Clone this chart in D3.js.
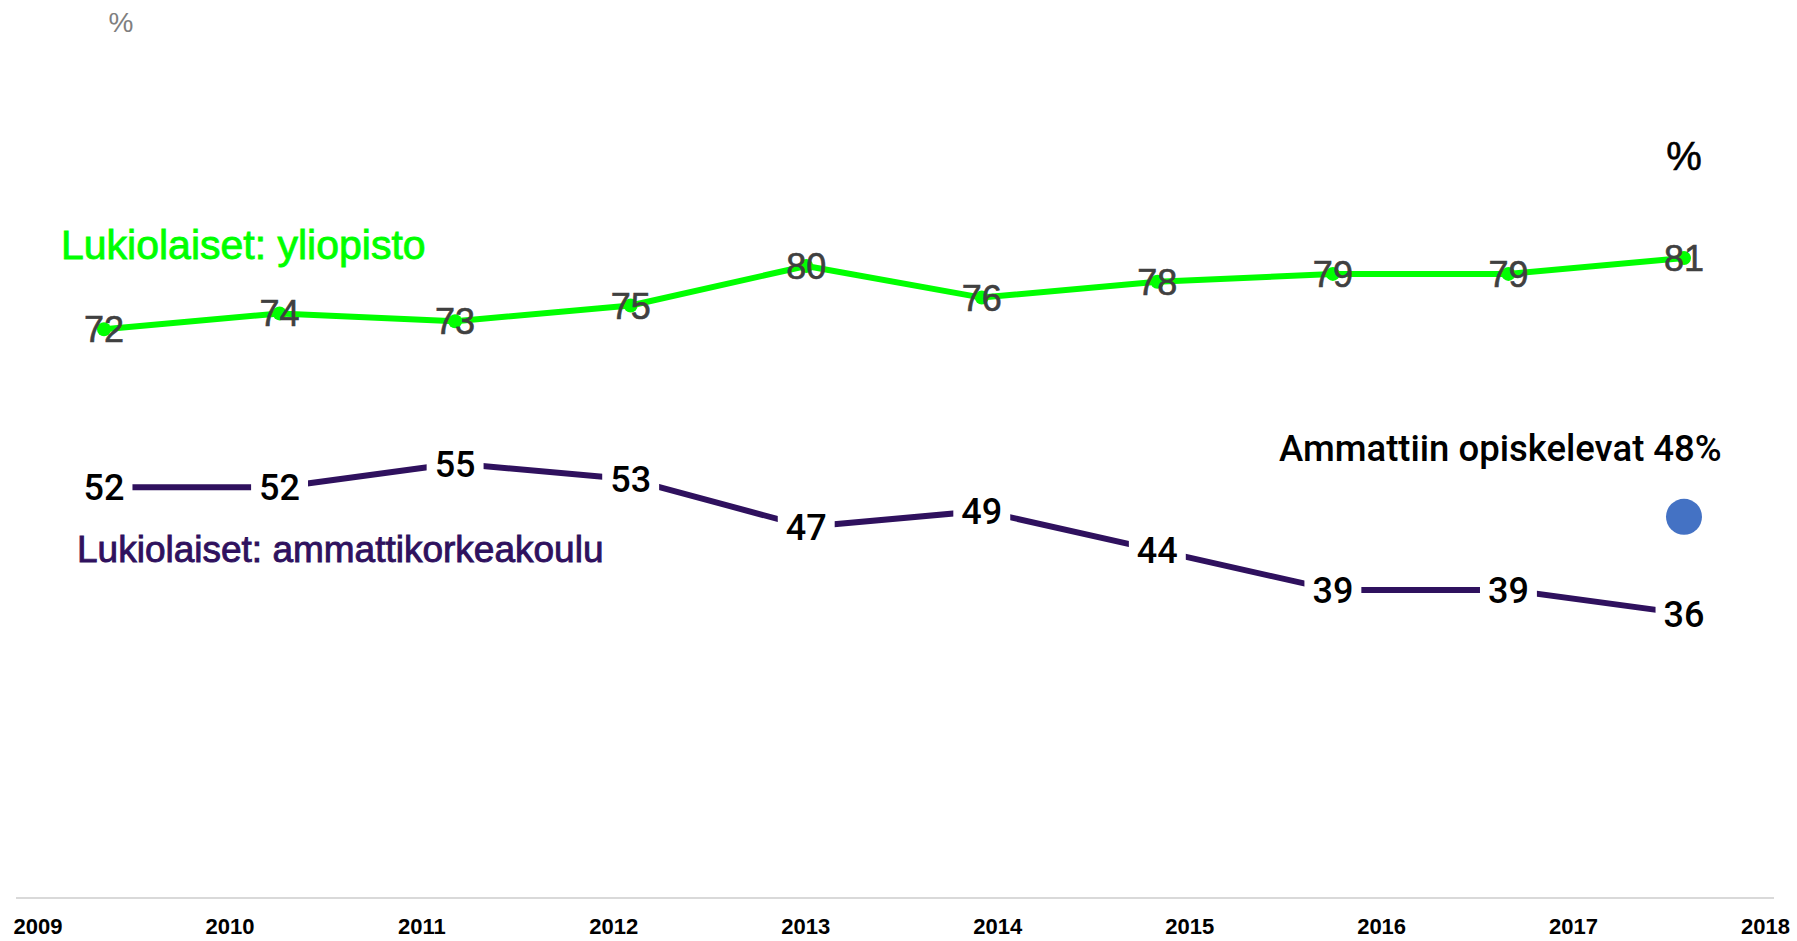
<!DOCTYPE html>
<html>
<head>
<meta charset="utf-8">
<script src="https://cdn.jsdelivr.net/npm/d3@7"></script>
<style>
  html, body { margin: 0; padding: 0; background: #ffffff; }
  svg { display: block; }
</style>
</head>
<body>
<svg id="chart" width="1797" height="941"></svg>
<script>
// ---- data ----
const years = ["2009", "2010", "2011", "2012", "2013", "2014", "2015", "2016", "2017", "2018"];
const yliopisto = [72, 74, 73, 75, 80, 76, 78, 79, 79, 81];
const ammattikorkeakoulu = [52, 52, 55, 53, 47, 49, 44, 39, 39, 36];
const ammattiinYear = ["2018"];
const ammattiinValue = [48];
const seriesNames = ["Lukiolaiset: yliopisto", "Lukiolaiset: ammattikorkeakoulu", "Ammattiin opiskelevat 48%"];

// ---- setup ----
const svg = d3.select("#chart");

const x = d3.scalePoint().domain(years).range([104, 1684]);
const xTick = d3.scalePoint().domain(years).range([37.5, 1765]);
const y = d3.scaleLinear().domain([0, 100]).range([898, 108]);

const GREEN = "#00ff00";
const PURPLE = "#2f115e";
const BLUE = "#4472c4";

// baseline
svg.append("line")
  .attr("x1", 16).attr("x2", 1774)
  .attr("y1", y(0)).attr("y2", y(0))
  .attr("stroke", "#d9d9d9").attr("stroke-width", 2);

// x axis labels
const axis = svg.append("g")
  .attr("transform", `translate(0,${y(0)})`)
  .call(d3.axisBottom(xTick).tickSize(0).tickPadding(20));
axis.select(".domain").remove();
axis.selectAll("text")
  .attr("fill", "#000")
  .style("font-family", "'Liberation Sans', Arial, sans-serif")
  .style("font-weight", "bold")
  .style("font-size", "22px");

// percent labels
svg.append("text")
  .attr("x", 121).attr("y", 32)
  .attr("text-anchor", "middle")
  .attr("fill", "#7f7f7f")
  .style("font-family", "'Liberation Sans', Arial, sans-serif")
  .style("font-size", "28px")
  .text("%");

svg.append("text")
  .attr("x", x("2018")).attr("y", 170)
  .attr("text-anchor", "middle")
  .attr("fill", "#000")
  .attr("stroke", "#000").attr("stroke-width", 0.6)
  .style("font-family", "'Liberation Sans', Arial, sans-serif")
  .style("font-size", "40px")
  .text("%");

// ---- green series ----
const greenData = years.map((yr, i) => ({ yr, v: yliopisto[i] }));
const line = d3.line().x(d => x(d.yr)).y(d => y(d.v));

svg.append("path")
  .datum(greenData)
  .attr("d", line)
  .attr("fill", "none")
  .attr("stroke", GREEN)
  .attr("stroke-width", 6)
  .attr("stroke-linejoin", "round");

svg.selectAll(".gdot")
  .data(greenData).enter().append("circle")
  .attr("class", "gdot")
  .attr("cx", d => x(d.yr)).attr("cy", d => y(d.v))
  .attr("r", 7).attr("fill", GREEN);

svg.selectAll(".glab")
  .data(greenData).enter().append("text")
  .attr("class", "glab")
  .attr("x", d => x(d.yr)).attr("y", d => y(d.v) + 13)
  .attr("text-anchor", "middle")
  .attr("fill", "#404040")
  .attr("stroke", "#404040").attr("stroke-width", 0.6)
  .style("font-family", "'Liberation Sans', Arial, sans-serif")
  .style("font-size", "36px")
  .text(d => d.v);

// ---- purple series ----
const purpleData = years.map((yr, i) => ({ yr, v: ammattikorkeakoulu[i] }));

svg.append("path")
  .datum(purpleData)
  .attr("d", line)
  .attr("fill", "none")
  .attr("stroke", PURPLE)
  .attr("stroke-width", 6)
  .attr("stroke-linejoin", "round");

const pg = svg.selectAll(".plab")
  .data(purpleData).enter().append("g")
  .attr("class", "plab");

pg.append("text")
  .attr("x", d => x(d.yr)).attr("y", d => y(d.v) + 13)
  .attr("text-anchor", "middle")
  .attr("fill", "#000")
  .style("font-family", "Roboto, 'Liberation Sans', Arial, sans-serif")
  .style("font-weight", "500")
  .style("font-size", "36px")
  .text(d => d.v);

pg.each(function () {
  const g = d3.select(this);
  const bb = g.select("text").node().getBBox();
  g.insert("rect", "text")
    .attr("x", bb.x - 8).attr("y", bb.y)
    .attr("width", bb.width + 16).attr("height", bb.height)
    .attr("fill", "#ffffff");
});

// ---- blue single point ----
svg.selectAll(".bdot")
  .data(ammattiinYear.map((yr, i) => ({ yr, v: ammattiinValue[i] })))
  .enter().append("circle")
  .attr("class", "bdot")
  .attr("cx", d => x(d.yr)).attr("cy", d => y(d.v) - 2)
  .attr("r", 18).attr("fill", BLUE);

// ---- series labels ----
svg.append("text")
  .attr("x", 61).attr("y", 259)
  .attr("fill", GREEN)
  .attr("stroke", GREEN).attr("stroke-width", 0.9)
  .style("font-family", "'Liberation Sans', Arial, sans-serif")
  .style("font-size", "41px")
  .text(seriesNames[0]);

svg.append("text")
  .attr("x", 77).attr("y", 562)
  .attr("fill", PURPLE)
  .attr("stroke", PURPLE).attr("stroke-width", 0.9)
  .style("font-family", "'Liberation Sans', Arial, sans-serif")
  .style("font-size", "37px")
  .text(seriesNames[1]);

svg.append("text")
  .attr("x", 1279).attr("y", 461)
  .attr("fill", "#000")
  .style("font-family", "Roboto, 'Liberation Sans', Arial, sans-serif")
  .style("font-weight", "500")
  .style("font-size", "36.5px")
  .text(seriesNames[2]);
</script>
</body>
</html>
